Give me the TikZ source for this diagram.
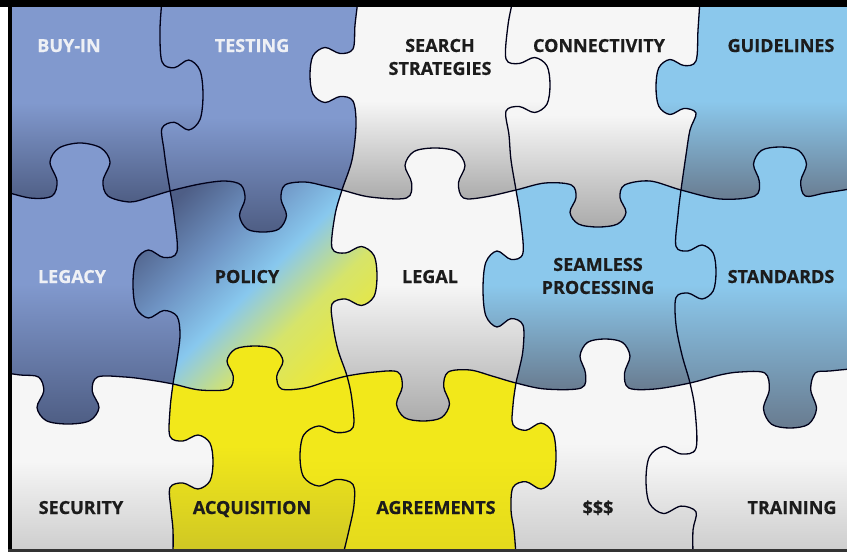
\documentclass[tikz,border=0pt]{standalone}
\usepackage{fontspec}
\setmainfont{Open Sans}[BoldFeatures={FakeBold=0.6}]
\definecolor{bpL}{HTML}{8199CE}
\definecolor{bpD}{HTML}{4D5C82}
\definecolor{whL}{HTML}{F6F6F6}
\definecolor{whD}{HTML}{A9A9A9}
\definecolor{wbD}{HTML}{CDCDCD}
\definecolor{skL}{HTML}{8BC8EC}
\definecolor{skD}{HTML}{687A8E}
\definecolor{ylL}{HTML}{F2E81A}
\definecolor{ylD}{HTML}{CFC724}
\definecolor{ygL}{HTML}{F2E81A}
\definecolor{ygD}{HTML}{E4DA1C}
\definecolor{txD}{HTML}{1C1C1C}
\definecolor{txW}{HTML}{EEF0F5}
\definecolor{polY}{HTML}{ECE838}
\definecolor{polG}{HTML}{D6E46A}
\definecolor{polB}{HTML}{88C8EE}
\definecolor{polM}{HTML}{6E92C2}
\definecolor{polD}{HTML}{4E5E86}
\colorlet{pclite}{white}
\colorlet{pcdark}{black}
\pgfdeclareverticalshading[pclite,pcdark]{pieceshade}{100bp}{color(0bp)=(pcdark); color(25bp)=(pcdark); color(50bp)=(pclite); color(100bp)=(pclite)}
\pgfdeclareverticalshading{policyshade}{100bp}{color(0bp)=(polY); color(25bp)=(polY); color(38bp)=(polG); color(50bp)=(polB); color(62bp)=(polM); color(75bp)=(polD); color(100bp)=(polD)}
% grid lines of the puzzle
\def\HA{plot[smooth,tension=0.55] coordinates {(0,190) (30,198) (52,196) (57,181) (50,162) (59,148) (80,143) (101,148) (110,162) (103,181) (108,196) (130,202) (150,197) (170,191) (200,184) (225,181) (241,185) (245,199) (239.5,215.5) (247,229) (263,232) (279,229) (286.5,215.5) (281,199) (285,185) (305,182) (325,186) (342,190) (370,197) (406.5,198) (411.6,183) (405,165.5) (414,151.5) (435,148) (456,151.5) (465,165.5) (458.4,183) (463.5,198) (485,197) (516,190) (545,183) (571.4,185) (576,197.6) (570,212.3) (578.4,224) (598,227) (617.6,224) (626,212.3) (620,197.6) (624.6,185) (650,181) (681,190) (720,199) (754.8,196) (759.3,181.3) (753.5,164.2) (761.5,150.4) (780,147) (798.5,150.4) (806.5,164.2) (800.7,181.3) (805.2,196) (825,193) (850,189)}}
\def\HB{plot[smooth,tension=0.55] coordinates {(0,372) (20,375) (38.5,377) (43.8,391) (37,407.5) (46.3,420.7) (68,424) (89.7,420.7) (99,407.5) (92.2,391) (97.5,377) (125,377) (150,380) (173,384) (200,390) (228.4,389) (233.2,376) (227,361) (235.4,349) (255,346) (274.6,349) (283,361) (276.8,376) (281.6,389) (305,388) (325,382) (347,376) (375,372) (397.8,372) (402.3,386.7) (396.5,403.9) (404.5,417.6) (423,421) (441.5,417.6) (449.5,403.9) (443.7,386.7) (448.2,372) (470,370) (492,376) (516,383) (545,389) (581.25,388) (585.5,373.3) (580,356.2) (587.5,342.4) (605,339) (622.5,342.4) (630,356.2) (624.5,373.3) (628.75,388) (655,389) (690,383) (720,375) (740,372) (764.8,373) (769.3,389.5) (763.5,408.8) (771.5,424.2) (790,428) (808.5,424.2) (816.5,408.8) (810.7,389.5) (815.2,373) (830,371) (850,369)}}
\def\VA{plot[smooth,tension=0.55] coordinates {(162,0) (160,30) (162,61.75) (174.3,67.7) (188.7,60) (200,70.5) (203,95) (200,119.5) (188.7,130) (174.3,122.3) (162,128.25) (164,150) (167,172) (170,190) (174,215) (177,251.7) (163.8,257.5) (148.4,250) (136.1,260.2) (133,284) (136.1,307.8) (148.4,318) (163.8,310.5) (177,316.3) (180,335) (177,360) (173,384) (170,410) (170,436.4) (182.9,441) (198,435) (210,443.1) (213,462) (210,480.9) (198,489) (182.9,483) (170,487.6) (171,510) (173,530) (173,555)}}
\def\VB{plot[smooth,tension=0.55] coordinates {(358,0) (355,25) (353,48.9) (340.1,53.5) (325,47.5) (313,55.75) (310,75) (313,94.25) (325,102.5) (340.1,96.5) (353,101.1) (356,125) (352,160) (342,190) (335,215) (332,248) (345.5,253) (361.25,246.5) (373.9,255.35) (377,276) (373.9,296.65) (361.25,305.5) (345.5,299) (332,304) (333,325) (338,350) (347,376) (352,400) (353,427.5) (337.1,432.6) (318.55,426) (303.7,435) (300,456) (303.7,477) (318.55,486) (337.1,479.4) (353,484.5) (354,505) (349,530) (343,555)}}
\def\VC{plot[smooth,tension=0.55] coordinates {(513,0) (508,25) (506,58.9) (519.2,63.5) (534.6,57.5) (546.9,65.75) (550,85) (546.9,104.25) (534.6,112.5) (519.2,106.5) (506,111.1) (509,135) (511,160) (516,190) (520,215) (523,252.9) (511,259.4) (497,251) (485.8,262.4) (483,289) (485.8,315.6) (497,327) (511,318.6) (523,325.1) (523,350) (519,370) (516,383) (513,405) (513,424.65) (525.9,430.3) (541,423) (553,432.9) (556,456) (553,479.1) (541,489) (525.9,481.7) (513,487.35) (511,510) (514,530) (516,555)}}
\def\VD{plot[smooth,tension=0.55] coordinates {(700,0) (698,30) (696,60.9) (684,65.55) (670,59.5) (658.8,67.75) (656,87) (658.8,106.25) (670,114.5) (684,108.45) (696,113.1) (690,130) (686,155) (681,190) (678,215) (676,246.35) (688,250.9) (702,245) (713.2,253.1) (716,272) (713.2,290.9) (702,299) (688,293.1) (676,297.65) (676,325) (682,355) (690,383) (695,410) (696,448.2) (681,453.9) (663.5,446.5) (649.5,456.55) (646,480) (649.5,503.45) (663.5,513.5) (681,506.1) (696,511.8) (693,530) (693,555)}}
\newcommand\clipAbove[1]{\clip #1 -- (860,-10) -- (-10,-10) -- cycle;}
\newcommand\clipBelow[1]{\clip #1 -- (860,570) -- (-10,570) -- cycle;}
\newcommand\clipLeft[1]{\clip #1 -- (-10,570) -- (-10,-10) -- cycle;}
\newcommand\clipRight[1]{\clip #1 -- (860,570) -- (860,-10) -- cycle;}
\newcommand\pc[3]{\colorlet{pclite}{#1}\colorlet{pcdark}{#2}\shade[shading=pieceshade] #3;}
\tikzset{
  pline/.style={line width=1.3pt, draw=black!90!blue, line join=round},
  lbl/.style={font=\bfseries\fontsize{18}{23}\selectfont, inner sep=0pt},
  wt/.style={lbl, text=txW},
  bt/.style={lbl, text=txD}
}
\begin{document}
\begin{tikzpicture}[x=1pt,y=-1pt]
\useasboundingbox (0,0) rectangle (847,552);
\fill[white] (0,0) rectangle (847,552);
\begin{scope}
\clip (12,6) rectangle (847,549);
% row 1
\begin{scope}\clipAbove{\HA}\clipLeft{\VA}\pc{bpL}{bpD}{(0,0) rectangle (215,205)}\end{scope}
\begin{scope}\clipAbove{\HA}\clipRight{\VA}\clipLeft{\VB}\pc{bpL}{bpD}{(150,0) rectangle (362,235)}\end{scope}
\begin{scope}\clipAbove{\HA}\clipRight{\VB}\clipLeft{\VC}\pc{whL}{whD}{(305,0) rectangle (555,202)}\end{scope}
\begin{scope}\clipAbove{\HA}\clipRight{\VC}\clipLeft{\VD}\pc{whL}{whD}{(500,0) rectangle (702,230)}\end{scope}
\begin{scope}\clipAbove{\HA}\clipRight{\VD}\pc{skL}{skD}{(650,0) rectangle (850,202)}\end{scope}
% row 2
\begin{scope}\clipBelow{\HA}\clipAbove{\HB}\clipLeft{\VA}\pc{bpL}{bpD}{(0,140) rectangle (185,428)}\end{scope}
\begin{scope}\clipBelow{\HA}\clipAbove{\HB}\clipRight{\VA}\clipLeft{\VB}\shade[shading=policyshade,shading angle=45] (128,178) rectangle (382,392);\end{scope}
\begin{scope}\clipBelow{\HA}\clipAbove{\HB}\clipRight{\VB}\clipLeft{\VC}\pc{whL}{whD}{(330,145) rectangle (530,425)}\end{scope}
\begin{scope}\clipBelow{\HA}\clipAbove{\HB}\clipRight{\VC}\clipLeft{\VD}\pc{skL}{skD}{(478,178) rectangle (720,392)}\end{scope}
\begin{scope}\clipBelow{\HA}\clipAbove{\HB}\clipRight{\VD}\pc{skL}{skD}{(670,143) rectangle (850,430)}\end{scope}
% row 3
\begin{scope}\clipBelow{\HB}\clipLeft{\VA}\pc{whL}{wbD}{(0,370) rectangle (220,552)}\end{scope}
\begin{scope}\clipBelow{\HB}\clipRight{\VA}\clipLeft{\VB}\pc{ylL}{ylD}{(165,340) rectangle (360,552)}\end{scope}
\begin{scope}\clipBelow{\HB}\clipRight{\VB}\clipLeft{\VC}\pc{ygL}{ygD}{(295,365) rectangle (560,552)}\end{scope}
\begin{scope}\clipBelow{\HB}\clipRight{\VC}\clipLeft{\VD}\pc{whL}{wbD}{(505,335) rectangle (700,552)}\end{scope}
\begin{scope}\clipBelow{\HB}\clipRight{\VD}\pc{whL}{wbD}{(640,365) rectangle (850,552)}\end{scope}
% piece outlines
\draw[pline] \HA;
\draw[pline] \HB;
\draw[pline] \VA;
\draw[pline] \VB;
\draw[pline] \VC;
\draw[pline] \VD;
\end{scope}
% frame
\fill[black] (0,0) rectangle (847,6.5);
\fill[black] (8,0) rectangle (12,552);
\fill[black!80] (8,549) rectangle (847,552);
% labels
\node[wt, anchor=base] (buyin) at (69,52) {BUY-IN};
\node[wt, anchor=base] (testing) at (252,52) {TESTING};
\node[bt, align=center] (search) at (440,57) {SEARCH\\STRATEGIES};
\node[bt, anchor=base] (conn) at (599,52) {CONNECTIVITY};
\node[bt, anchor=base] (guide) at (781,52) {GUIDELINES};
\node[wt, anchor=base] (legacy) at (72,283) {LEGACY};
\node[bt, anchor=base] (policy) at (247,283) {POLICY};
\node[bt, anchor=base] (legal) at (430,283) {LEGAL};
\node[bt, align=center] (seam) at (598,276) {SEAMLESS\\PROCESSING};
\node[bt, anchor=base] (std) at (781,283) {STANDARDS};
\node[bt, anchor=base] (sec) at (81,514) {SECURITY};
\node[bt, anchor=base] (acq) at (252,514) {ACQUISITION};
\node[bt, anchor=base] (agr) at (436,514) {AGREEMENTS};
\node[bt, anchor=base] (dol) at (598,514) {\$\$\$};
\node[bt, anchor=base] (train) at (792,514) {TRAINING};
\end{tikzpicture}
\end{document}
